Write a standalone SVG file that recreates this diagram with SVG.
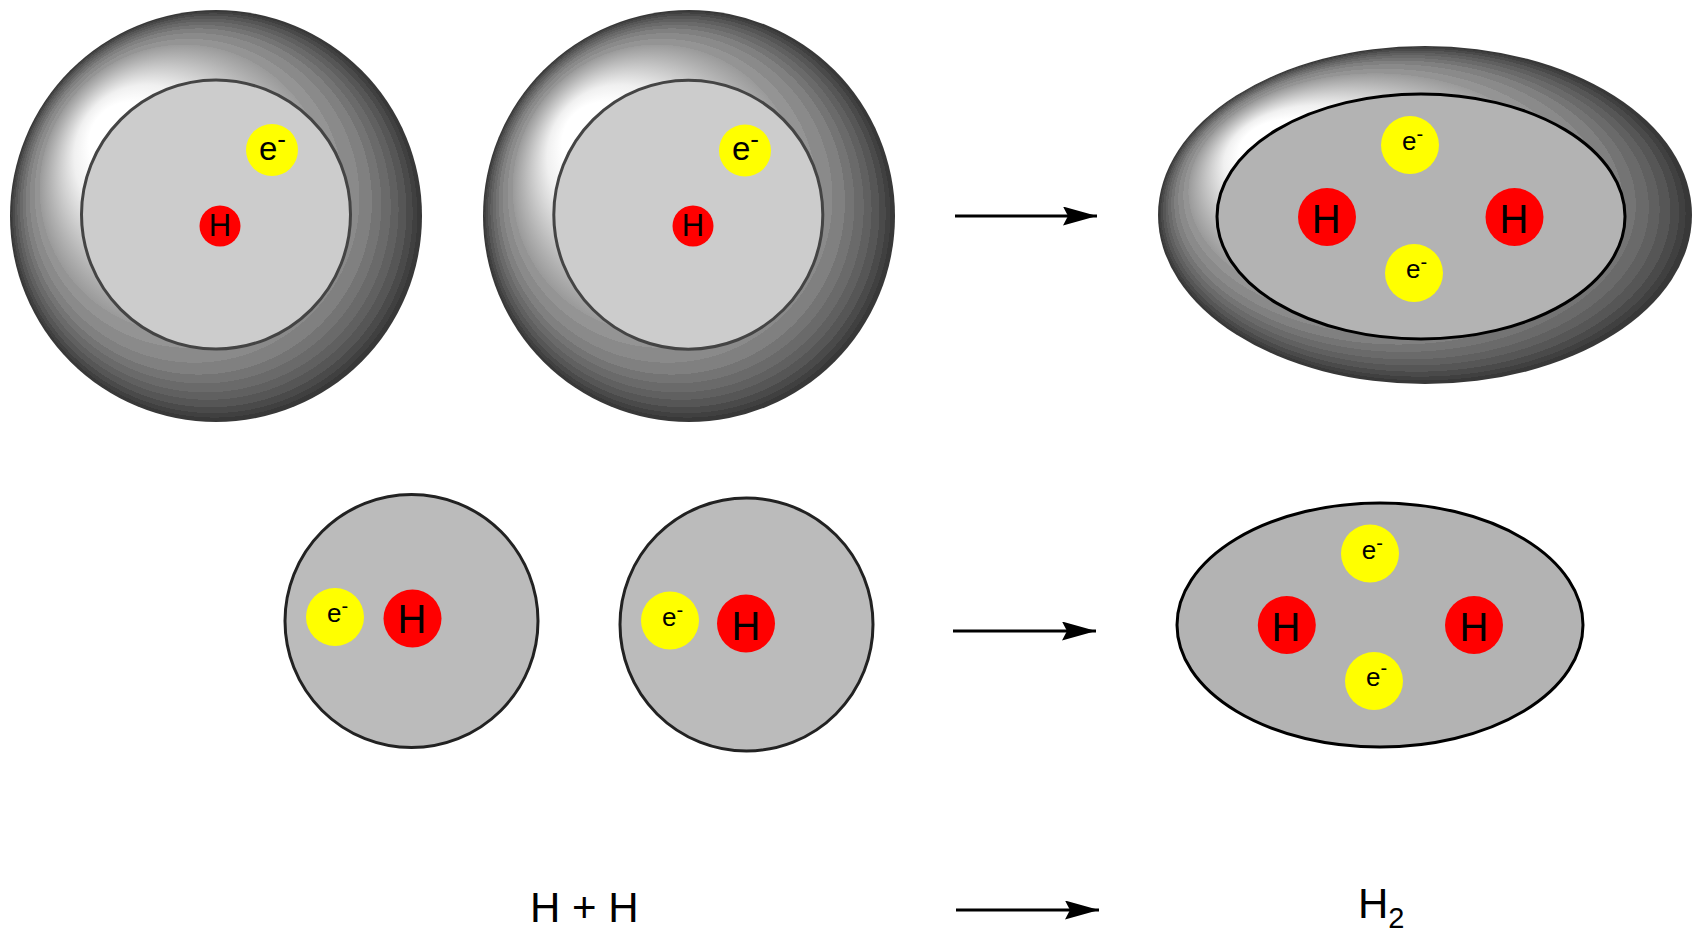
<svg xmlns="http://www.w3.org/2000/svg" xmlns:xlink="http://www.w3.org/1999/xlink" width="1703" height="945" viewBox="0 0 1703 945">
<style>
text{font-family:"Liberation Sans",Arial,sans-serif;fill:#000}
.cloud{fill:#ccc;stroke:#444;stroke-width:3}
.shell{fill:#b3b3b3;stroke:#000;stroke-width:3}
.plain{fill:#bbb;stroke:#222;stroke-width:3}
.p{fill:#f00}.el{fill:#ff0}
.hs{font-size:31px}.hl{font-size:40px}
.es{font-size:33px}.el-t{font-size:26px}
.conn{stroke:#000;stroke-width:3;fill:none;marker-end:url(#arrow)}
.label{font-size:42px}
</style>
<defs>
<linearGradient id="bands">
<stop offset="0" stop-color="#fff"/><stop offset=".2" stop-color="#fff"/><stop offset=".35" stop-color="#f0f0f0"/><stop offset=".5" stop-color="#cbcbcb"/><stop offset=".6" stop-color="#b2b2b2"/><stop offset=".7" stop-color="#9a9a9a"/>
<stop offset=".7" stop-color="#949494"/><stop offset=".75" stop-color="#949494"/>
<stop offset=".75" stop-color="#8a8a8a"/><stop offset=".8" stop-color="#8a8a8a"/>
<stop offset=".8" stop-color="#808080"/><stop offset=".84" stop-color="#808080"/>
<stop offset=".84" stop-color="#747474"/><stop offset=".87" stop-color="#747474"/>
<stop offset=".87" stop-color="#6a6a6a"/><stop offset=".9" stop-color="#6a6a6a"/>
<stop offset=".9" stop-color="#606060"/><stop offset=".925" stop-color="#606060"/>
<stop offset=".925" stop-color="#565656"/><stop offset=".95" stop-color="#565656"/>
<stop offset=".95" stop-color="#4a4a4a"/><stop offset=".97" stop-color="#4a4a4a"/>
<stop offset=".97" stop-color="#404040"/><stop offset=".985" stop-color="#404040"/>
<stop offset=".985" stop-color="#383838"/><stop offset="1" stop-color="#383838"/>
</linearGradient>
<radialGradient id="gc" xlink:href="#bands" href="#bands" cx=".5" cy=".5" r=".5" fx=".24" fy=".28"/>
<radialGradient id="ge" xlink:href="#bands" href="#bands" cx=".5" cy=".5" r=".5" fx=".19" fy=".27"/>
<marker id="arrow" markerUnits="userSpaceOnUse" markerWidth="36" markerHeight="20" refX="34" refY="9.5" orient="auto" viewBox="0 0 36 20">
<path d="M0 0L34 9.5L0 19L5 9.5Z" fill="#000"/>
</marker>
</defs>
<rect width="1703" height="945" fill="#fff"/>

<g id="atom-cloud-1">
<circle cx="216" cy="216" r="206" fill="url(#gc)"/>
<circle class="cloud" cx="216" cy="214.5" r="134.5"/>
<circle class="el" cx="272" cy="150" r="26"/>
<text class="es" x="259" y="160">e<tspan font-size="26" dy="-12.5">-</tspan></text>
<circle class="p" cx="220" cy="226" r="20.5"/>
<text class="hs" x="208.8" y="235.5">H</text>
</g>
<g id="atom-cloud-2">
<circle cx="689" cy="216" r="206" fill="url(#gc)"/>
<circle class="cloud" cx="688.3" cy="214.7" r="134.5"/>
<circle class="el" cx="745" cy="150.5" r="26"/>
<text class="es" x="732" y="160">e<tspan font-size="26" dy="-12.5">-</tspan></text>
<circle class="p" cx="693" cy="226" r="20.5"/>
<text class="hs" x="681.8" y="236">H</text>
</g>
<g id="molecule-cloud">
<ellipse cx="1425" cy="215" rx="267" ry="169" fill="url(#ge)"/>
<ellipse class="shell" cx="1421" cy="216.5" rx="204" ry="122.5"/>
<circle class="el" cx="1410" cy="145" r="29"/>
<text class="el-t" x="1402" y="150">e<tspan font-size="20" dy="-8.6">-</tspan></text>
<circle class="el" cx="1414" cy="273" r="29"/>
<text class="el-t" x="1406" y="278">e<tspan font-size="20" dy="-8.6">-</tspan></text>
<circle class="p" cx="1327" cy="217" r="29"/>
<text class="hl" x="1311.8" y="233">H</text>
<circle class="p" cx="1514.5" cy="217" r="29"/>
<text class="hl" x="1499.5" y="233">H</text>
</g>

<g id="atom-plain-1">
<circle class="plain" cx="411.5" cy="621" r="126.5"/>
<circle class="el" cx="335" cy="617" r="29"/>
<text class="el-t" x="327" y="622">e<tspan font-size="20" dy="-8.6">-</tspan></text>
<circle class="p" cx="412.5" cy="618.5" r="29"/>
<text class="hl" x="397.5" y="633">H</text>
</g>
<g id="atom-plain-2">
<circle class="plain" cx="746.5" cy="624.5" r="126.5"/>
<circle class="el" cx="670" cy="620.5" r="29"/>
<text class="el-t" x="662" y="626">e<tspan font-size="20" dy="-8.6">-</tspan></text>
<circle class="p" cx="746" cy="623.5" r="29"/>
<text class="hl" x="731.5" y="640">H</text>
</g>
<g id="molecule-plain">
<ellipse class="shell" cx="1380" cy="625" rx="203" ry="122"/>
<circle class="el" cx="1370" cy="553.5" r="29"/>
<text class="el-t" x="1361.7" y="559">e<tspan font-size="20" dy="-8.6">-</tspan></text>
<circle class="el" cx="1374" cy="681" r="29"/>
<text class="el-t" x="1366" y="686">e<tspan font-size="20" dy="-11">-</tspan></text>
<circle class="p" cx="1286.8" cy="625" r="29"/>
<text class="hl" x="1271.6" y="641">H</text>
<circle class="p" cx="1474" cy="625" r="29"/>
<text class="hl" x="1459.4" y="641">H</text>
</g>

<g id="label-reactants"><text class="label" x="530" y="922">H + H</text></g>
<g id="label-product"><text class="label" x="1358" y="918">H<tspan font-size="29" dy="10">2</tspan></text></g>

<g id="connectors">
<line class="conn" x1="955" y1="216" x2="1097" y2="216"/>
<line class="conn" x1="953" y1="631" x2="1096" y2="631"/>
<line class="conn" x1="956" y1="910" x2="1099" y2="910"/>
</g>
</svg>
